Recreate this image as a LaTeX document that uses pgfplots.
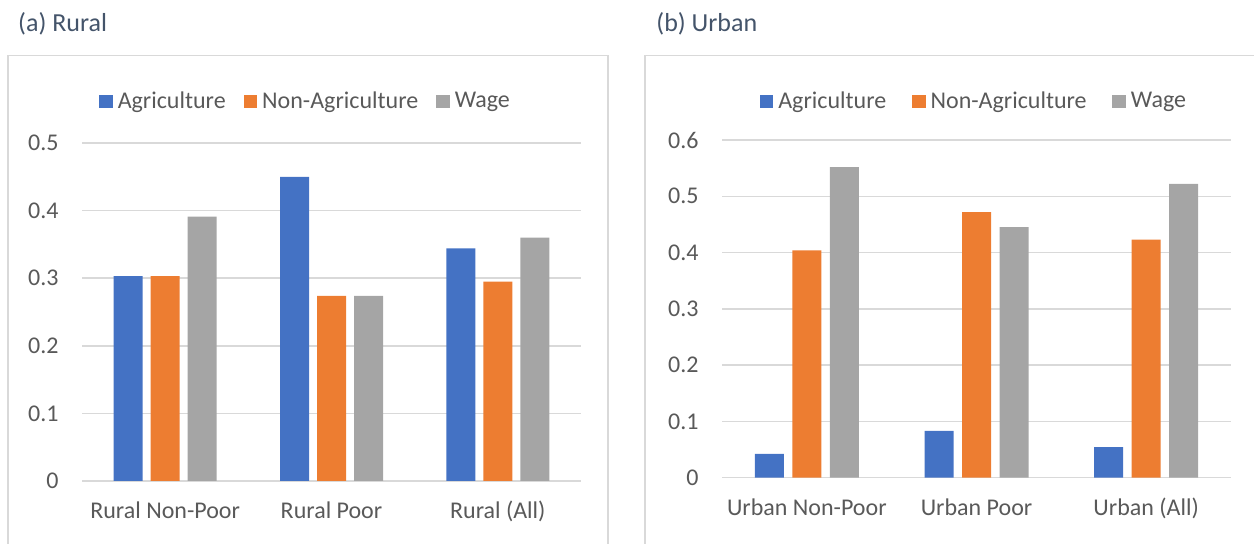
\documentclass[border=0pt]{standalone}
\usepackage{pgfplots}
\pgfplotsset{compat=1.18}
\usepackage{fontspec}
\setmainfont{Carlito}
\definecolor{cblue}{HTML}{4472C4}
\definecolor{corange}{HTML}{ED7D31}
\definecolor{cgray}{HTML}{A5A5A5}
\definecolor{gridc}{HTML}{D9D9D9}
\definecolor{labc}{HTML}{595959}
\definecolor{titlec}{HTML}{44546A}
\pgfplotsset{mystyle/.style={
  scale only axis, anchor=south west,
  ybar, bar width=14.5pt,
  xmin=-0.5, xmax=2.5, xtick={0,1,2},
  ymin=0,
  axis line style={draw=none},
  major tick length=0pt,
  ymajorgrids, grid style={line width=0.75pt, draw=gridc},
  tick label style={font=\fontsize{12}{14}\selectfont, text=labc},
  yticklabel style={anchor=east, inner sep=0pt, xshift=-11.5pt},
  xticklabel style={anchor=base, inner sep=0pt, yshift=-19pt},
  /pgf/number format/assume math mode=true,
  /pgf/number format/fixed,
  legend columns=3,
  legend style={draw=none, fill=none, anchor=center, inner sep=0pt,
    font=\fontsize{12}{14}\selectfont, text=labc,
    nodes={inner sep=0pt},
    /tikz/every odd column/.append style={column sep=2.5pt}},
  legend image code/.code={\fill (0pt,-3.375pt) rectangle (6.75pt,3.375pt);},
}}
\begin{document}
\begin{tikzpicture}
\useasboundingbox (0,0) rectangle (627pt,272pt);
\draw[gridc, line width=0.75pt] (4pt,-10pt) rectangle (304pt,244.25pt);
\draw[gridc, line width=0.75pt] (322.5pt,-10pt) rectangle (660pt,244.25pt);
\node[anchor=base west, text=titlec, font=\fontsize{13}{15}\selectfont, inner sep=0pt] at (8.9pt,256pt) {(a) Rural};
\node[anchor=base west, text=titlec, font=\fontsize{13}{15}\selectfont, inner sep=0pt] at (328pt,256pt) {(b) Urban};

\begin{axis}[mystyle,
  at={(41pt,31.5pt)}, width=249.5pt, height=169pt,
  ymax=0.5, ytick={0,0.1,0.2,0.3,0.4,0.5},
  xticklabels={Rural Non-Poor, Rural Poor, Rural (All)},
  legend style={at={(0.446,1.1225)},
    /tikz/every even column/.append style={column sep=9pt}},
]
\addplot[fill=cblue, draw=none, bar shift=-18.5pt] coordinates {(0,0.303) (1,0.450) (2,0.344)};
\addplot[fill=corange, draw=none, bar shift=0pt] coordinates {(0,0.303) (1,0.274) (2,0.295)};
\addplot[fill=cgray, draw=none, bar shift=18.5pt] coordinates {(0,0.391) (1,0.274) (2,0.360)};
\legend{Agriculture, Non-Agriculture, Wage}
\end{axis}

\begin{axis}[mystyle,
  at={(361pt,33.2pt)}, width=254.5pt, height=168.8pt,
  ymax=0.6, ytick={0,0.1,0.2,0.3,0.4,0.5,0.6},
  xticklabels={Urban Non-Poor, Urban Poor, Urban (All)},
  xticklabel style={yshift=0.25pt},
  legend style={at={(0.493,1.114)},
    /tikz/every even column/.append style={column sep=12.9pt}},
]
\addplot[fill=cblue, draw=none, bar shift=-18.75pt] coordinates {(0,0.042) (1,0.083) (2,0.054)};
\addplot[fill=corange, draw=none, bar shift=0pt] coordinates {(0,0.404) (1,0.472) (2,0.423)};
\addplot[fill=cgray, draw=none, bar shift=18.75pt] coordinates {(0,0.552) (1,0.445) (2,0.522)};
\legend{Agriculture, Non-Agriculture, Wage}
\end{axis}
\end{tikzpicture}
\end{document}
